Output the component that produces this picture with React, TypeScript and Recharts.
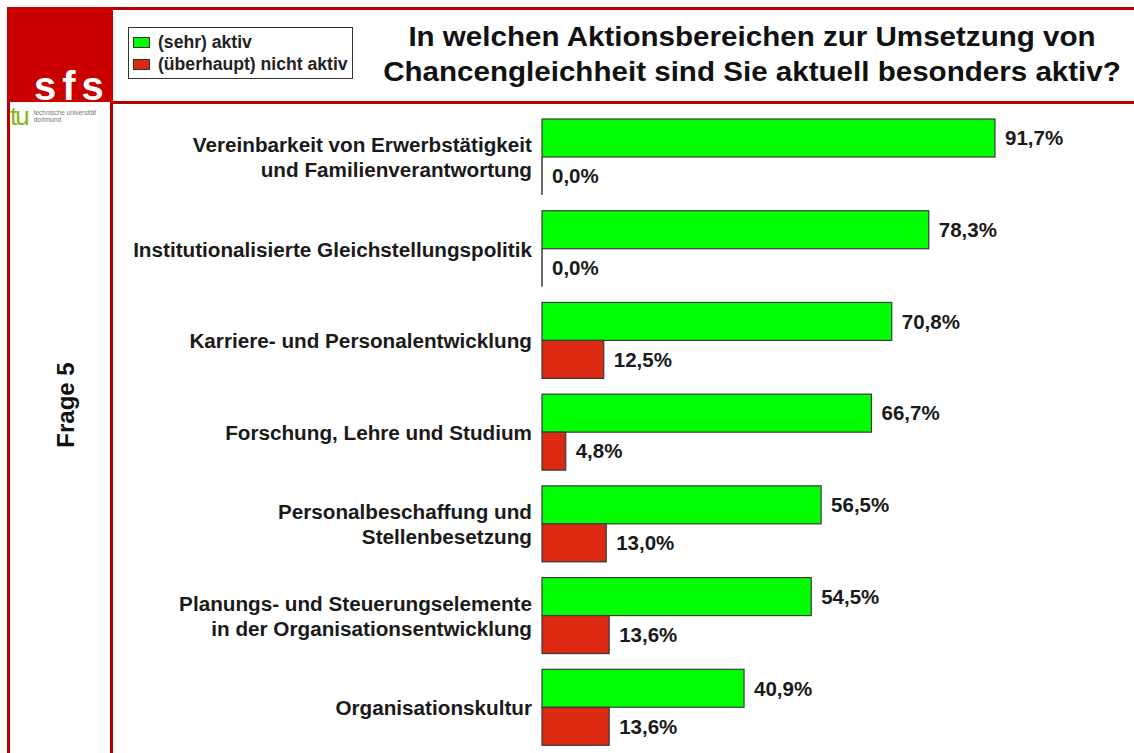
import React from "react";
import { BarChart, Bar, XAxis, YAxis, LabelList, Legend } from "recharts";

const categories = [
  "vereinbarkeit",
  "gleichstellung",
  "karriere",
  "forschung",
  "personalbeschaffung",
  "planung",
  "kultur",
];

const categoryLines = [
  ["Vereinbarkeit von Erwerbstätigkeit", "und Familienverantwortung"],
  ["Institutionalisierte Gleichstellungspolitik"],
  ["Karriere- und Personalentwicklung"],
  ["Forschung, Lehre und Studium"],
  ["Personalbeschaffung und", "Stellenbesetzung"],
  ["Planungs- und Steuerungselemente", "in der Organisationsentwicklung"],
  ["Organisationskultur"],
];

const aktivValues = [91.7, 78.3, 70.8, 66.7, 56.5, 54.5, 40.9];
const nichtAktivValues = [0.0, 0.0, 12.5, 4.8, 13.0, 13.6, 13.6];

const seriesNames = ["(sehr) aktiv", "(überhaupt) nicht aktiv"];
const titleLines = [
  "In welchen Aktionsbereichen zur Umsetzung von",
  "Chancengleichheit sind Sie aktuell besonders aktiv?",
];
const sideLabel = "Frage 5";

const data = categories.map((c, i) => ({
  name: c,
  aktiv: aktivValues[i],
  nicht: nichtAktivValues[i],
}));

const FONT = "'Liberation Sans', Arial, sans-serif";
const RED = "#B80000";

const fmt = (v: any) => `${Number(v).toFixed(1).replace(".", ",")}%`;

const CategoryTick = (props: any) => {
  const { x, y, payload } = props;
  const idx = categories.indexOf(payload.value);
  const lines = categoryLines[idx] || [];
  const lh = 25;
  const start = y - ((lines.length - 1) * lh) / 2;
  return (
    <text
      x={x}
      y={start}
      textAnchor="end"
      dominantBaseline="central"
      fill="#1a1a1a"
      style={{ fontFamily: FONT, fontSize: 20.7, fontWeight: 700 }}
    >
      {lines.map((l, i) => (
        <tspan key={i} x={x} y={start + i * lh}>
          {l}
        </tspan>
      ))}
    </text>
  );
};

const BarShape = (props: any) => {
  const { x, y, width, height, fill } = props;
  if (!width || width < 0.5) {
    return <line x1={x} x2={x} y1={y} y2={y + height} stroke="#3a3a3a" strokeWidth={1.5} />;
  }
  return <rect x={x} y={y} width={width} height={height} fill={fill} stroke="#3a3a3a" strokeWidth={1.2} />;
};

const LegendContent = (props: any) => {
  const { payload } = props;
  return (
    <div
      style={{
        width: 225,
        height: 52,
        border: "1.5px solid #333",
        background: "#fff",
        boxSizing: "border-box",
        paddingTop: 3,
        fontFamily: FONT,
      }}
    >
      {(payload || []).map((p: any, i: number) => (
        <div key={i} style={{ display: "flex", alignItems: "center", height: 22, paddingLeft: 4 }}>
          <span
            style={{
              display: "inline-block",
              width: 15,
              height: 9,
              background: p.color,
              border: "1px solid #333",
              marginRight: 8,
            }}
          />
          <span style={{ fontSize: 17.6, fontWeight: 700, color: "#222", whiteSpace: "nowrap" }}>{p.value}</span>
        </div>
      ))}
    </div>
  );
};

export default function App() {
  return (
    <div
      style={{
        position: "fixed",
        left: 0,
        top: 0,
        width: 1134,
        height: 753,
        background: "#fff",
        overflow: "hidden",
        fontFamily: FONT,
      }}
    >
      {/* frame */}
      <div style={{ position: "absolute", left: 7, top: 7, width: 1127, height: 3, background: RED }} />
      <div style={{ position: "absolute", left: 7, top: 7, width: 3, height: 746, background: RED }} />
      <div style={{ position: "absolute", left: 110, top: 7, width: 3, height: 746, background: RED }} />
      <div style={{ position: "absolute", left: 110, top: 101, width: 1024, height: 3, background: RED }} />
      <div
        style={{
          position: "absolute",
          left: 7,
          top: 7,
          width: 106,
          height: 95,
          background: "#C80000",
        }}
      />
      <div
        style={{
          position: "absolute",
          left: 34,
          top: 66,
          color: "#fff",
          fontSize: 40,
          fontWeight: 700,
          letterSpacing: 6,
          lineHeight: "40px",
        }}
      >
        sfs
      </div>
      <div style={{ position: "absolute", left: 10, top: 106, display: "flex", alignItems: "flex-start" }}>
        <span style={{ color: "#84B817", fontSize: 26, fontWeight: 400, lineHeight: "20px", letterSpacing: -2 }}>tu</span>
        <span style={{ color: "#777", fontSize: 6.5, lineHeight: "7px", marginLeft: 6, marginTop: 3 }}>
          technische universität
          <br />
          dortmund
        </span>
      </div>
      <div
        style={{
          position: "absolute",
          left: 66,
          top: 405,
          transform: "translate(-50%, -50%) rotate(-90deg)",
          fontSize: 24,
          fontWeight: 700,
          color: "#111",
          whiteSpace: "nowrap",
        }}
      >
        {sideLabel}
      </div>
      {/* title */}
      <div
        style={{
          position: "absolute",
          left: 360,
          top: 20,
          width: 784,
          textAlign: "center",
          fontSize: 27,
          fontWeight: 700,
          lineHeight: "35px",
          color: "#111",
          transform: "scaleX(1.095)",
          transformOrigin: "392px 0",
        }}
      >
        {titleLines.map((t, i) => (
          <div key={i}>{t}</div>
        ))}
      </div>
      <div style={{ position: "absolute", left: 0, top: 0 }}>
        <BarChart
          width={1134}
          height={753}
          data={data}
          layout="vertical"
          margin={{ top: 111, right: 98, bottom: 0, left: 0 }}
          barGap={0}
          barSize={38}
        >
          <XAxis type="number" domain={[0, 100]} hide />
          <YAxis
            type="category"
            dataKey="name"
            width={542}
            axisLine={false}
            tickLine={false}
            tickSize={0}
            tickMargin={10}
            interval={0}
            tick={<CategoryTick />}
          />
          <Legend
            layout="vertical"
            align="center"
            verticalAlign="middle"
            content={<LegendContent />}
            wrapperStyle={{ position: "absolute", left: 128, top: 27, width: 225, height: 52 }}
          />
          <Bar
            dataKey="aktiv"
            name={seriesNames[0]}
            fill="#00FF00"
            isAnimationActive={false}
            shape={<BarShape />}
          >
            <LabelList
              dataKey="aktiv"
              position="right"
              offset={10}
              formatter={fmt}
              style={{ fontFamily: FONT, fontSize: 20.5, fontWeight: 700, fill: "#1a1a1a" }}
            />
          </Bar>
          <Bar
            dataKey="nicht"
            name={seriesNames[1]}
            fill="#DC2A12"
            isAnimationActive={false}
            shape={<BarShape />}
          >
            <LabelList
              dataKey="nicht"
              position="right"
              offset={10}
              formatter={fmt}
              style={{ fontFamily: FONT, fontSize: 20.5, fontWeight: 700, fill: "#1a1a1a" }}
            />
          </Bar>
        </BarChart>
      </div>
    </div>
  );
}
